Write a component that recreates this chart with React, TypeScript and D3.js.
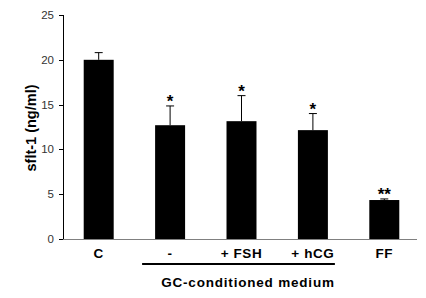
import React from 'react';
import * as d3 from 'd3';

const categories = ['C', '-', '+ FSH', '+ hCG', 'FF'];
const means = [20.0, 12.7, 13.15, 12.15, 4.35];
const errors = [0.8, 2.15, 2.85, 1.85, 0.12];
const stars = ['', '*', '*', '*', '**'];
const yTicks = [0, 5, 10, 15, 20, 25];

const width = 426;
const height = 298;
const left = 63;
const top = 15;
const bottom = 239;

const App = () => {
  const x = d3.scaleBand().domain(categories).range([63, 420]).paddingInner(0.58).paddingOuter(0.29);
  const y = d3.scaleLinear().domain([0, 25]).range([bottom, top]);
  const font = 'Arial, "Liberation Sans", sans-serif';

  return (
    <svg width={width} height={height} style={{ position: 'absolute', left: 0, top: 0, background: '#fff' }}>
      {/* bars */}
      {categories.map((c, i) => {
        const cx = x(c)! + x.bandwidth() / 2;
        const yTop = y(means[i]);
        const yErr = y(means[i] + errors[i]);
        return (
          <g key={c}>
            <rect x={x(c)} y={yTop} width={x.bandwidth()} height={bottom - yTop} fill="#000" />
            <line x1={cx} x2={cx} y1={yTop} y2={yErr} stroke="#000" strokeWidth={1} />
            <line x1={cx - 4} x2={cx + 4} y1={yErr} y2={yErr} stroke="#000" strokeWidth={1} />
            {stars[i] && (
              <text x={cx} y={yErr + 1} textAnchor="middle" fontFamily={font} fontSize={17} fontWeight="bold">
                {stars[i]}
              </text>
            )}
            <text x={cx} y={258} textAnchor="middle" fontFamily={font} fontSize={13.5} fontWeight="bold" letterSpacing={0.6}>
              {c}
            </text>
          </g>
        );
      })}
      {/* x axis */}
      <line x1={left} x2={417} y1={bottom + 0.5} y2={bottom + 0.5} stroke="#808080" strokeWidth={1} />
      {/* y axis */}
      <line x1={left + 0.5} x2={left + 0.5} y1={top} y2={bottom} stroke="#000" strokeWidth={1} />
      {yTicks.map((t) => (
        <g key={t}>
          <line x1={left - 4} x2={left} y1={Math.round(y(t)) + 0.5} y2={Math.round(y(t)) + 0.5} stroke="#000" />
          <text x={left - 9} y={y(t) + 4} textAnchor="end" fontFamily={font} fontSize={11.5} fill="#333">
            {t}
          </text>
        </g>
      ))}
      <text
        transform={`translate(36, ${(top + bottom) / 2 + 1}) rotate(-90)`}
        textAnchor="middle"
        fontFamily={font}
        fontSize={14.5}
        fontWeight="bold"
      >
        sflt-1 (ng/ml)
      </text>
      {/* group bracket */}
      <line x1={x('-')! - 13} x2={x('+ hCG')! + x.bandwidth() + 7} y1={264} y2={264} stroke="#000" strokeWidth={2} />
      <text x={248} y={287} textAnchor="middle" fontFamily={font} fontSize={13.5} fontWeight="bold" letterSpacing={0.8}>
        GC-conditioned medium
      </text>
    </svg>
  );
};

export default App;
